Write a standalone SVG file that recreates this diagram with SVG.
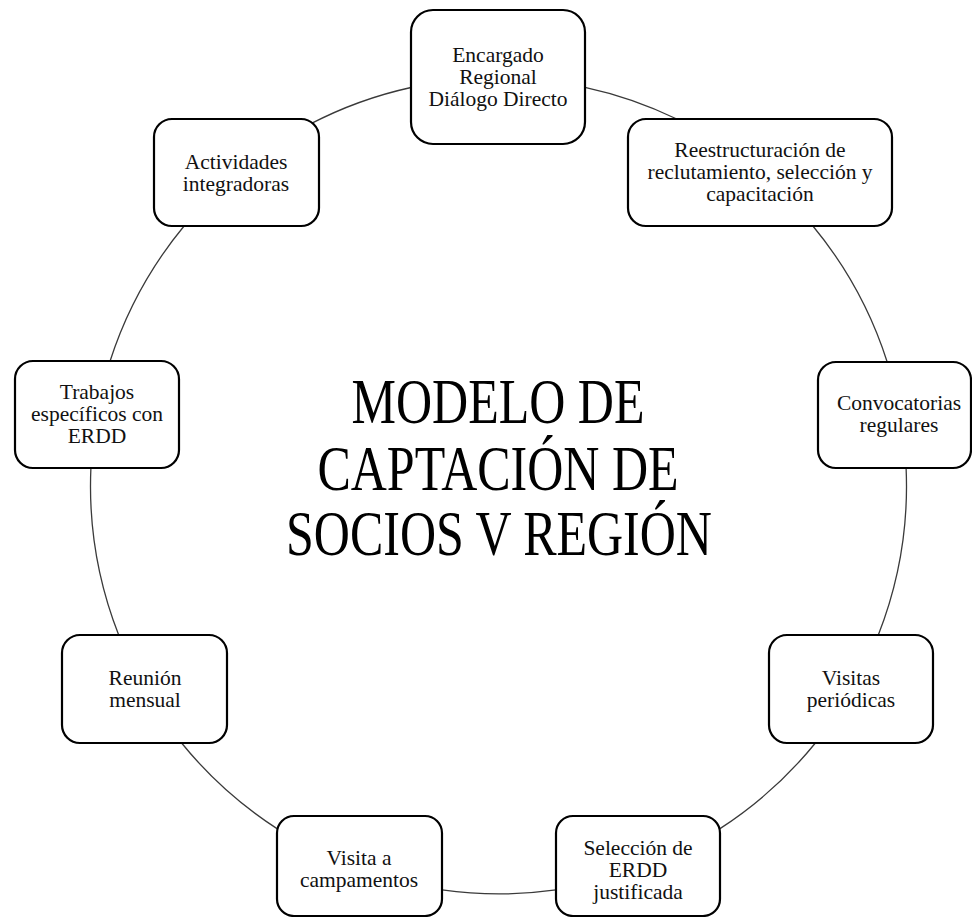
<svg xmlns="http://www.w3.org/2000/svg" width="972" height="917" viewBox="0 0 972 917">
<style>
.node rect{fill:#fff;stroke:#000;stroke-width:2.2}
.node text{font-family:"Liberation Serif","Times New Roman",serif;font-size:21.5px;fill:#111;text-anchor:middle}
.conn path{fill:none;stroke:#3a3a3a;stroke-width:1.3}
.title{font-family:"Liberation Serif","Times New Roman",serif;font-size:50px;fill:#000;text-anchor:middle}
</style>
<rect width="972" height="917" fill="#fff"/>
<g id="connectors" class="conn">
<path d="M585,87.3 A408,408 0 0 1 676.8,119"/>
<path d="M812.9,226 A408,408 0 0 1 887.2,362"/>
<path d="M906.1,468 A408,408 0 0 1 878.3,635"/>
<path d="M815.4,743 A408,408 0 0 1 720,828.6"/>
<path d="M556,889.9 A408,408 0 0 1 442,889.9"/>
<path d="M277,828.6 A408,408 0 0 1 181.6,743"/>
<path d="M118.7,635 A408,408 0 0 1 90.9,468"/>
<path d="M110.1,361 A408,408 0 0 1 184.1,226"/>
<path d="M310,124.2 A408,408 0 0 1 411,87.5"/>
</g>
<g id="title">
<text class="title" transform="translate(498,423) scale(1,1.27)">MODELO DE</text>
<text class="title" transform="translate(498,490) scale(1,1.27)">CAPTACIÓN DE</text>
<text class="title" transform="translate(499,555) scale(1,1.27)">SOCIOS V REGIÓN</text>
</g>
<g id="n1" class="node">
<rect x="411" y="10" width="174" height="134" rx="22"/>
<text x="498" y="62">Encargado</text>
<text x="498" y="84">Regional</text>
<text x="498" y="106">Diálogo Directo</text>
</g>
<g id="n2" class="node">
<rect x="628" y="119" width="264" height="107" rx="18"/>
<text x="760" y="157">Reestructuración de</text>
<text x="760" y="179">reclutamiento, selección y</text>
<text x="760" y="201">capacitación</text>
</g>
<g id="n3" class="node">
<rect x="818" y="362" width="153" height="106" rx="18"/>
<text x="899" y="410">Convocatorias</text>
<text x="899" y="432">regulares</text>
</g>
<g id="n4" class="node">
<rect x="769" y="635" width="164" height="108" rx="18"/>
<text x="851" y="685">Visitas</text>
<text x="851" y="707">periódicas</text>
</g>
<g id="n5" class="node">
<rect x="556" y="816" width="164" height="100" rx="17"/>
<text x="638" y="855">Selección de</text>
<text x="638" y="877">ERDD</text>
<text x="638" y="899">justificada</text>
</g>
<g id="n6" class="node">
<rect x="277" y="816" width="165" height="100" rx="17"/>
<text x="359" y="865">Visita a</text>
<text x="359" y="887">campamentos</text>
</g>
<g id="n7" class="node">
<rect x="62" y="635" width="165" height="108" rx="18"/>
<text x="145" y="685">Reunión</text>
<text x="145" y="707">mensual</text>
</g>
<g id="n8" class="node">
<rect x="15" y="361" width="164" height="107" rx="18"/>
<text x="97" y="399">Trabajos</text>
<text x="97" y="421">específicos con</text>
<text x="97" y="443">ERDD</text>
</g>
<g id="n9" class="node">
<rect x="154" y="119" width="165" height="107" rx="18"/>
<text x="236" y="169">Actividades</text>
<text x="236" y="191">integradoras</text>
</g>
</svg>
